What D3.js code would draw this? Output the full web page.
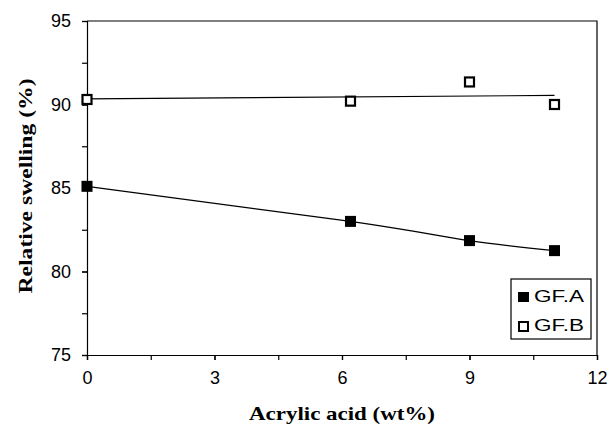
<!DOCTYPE html>
<html>
<head>
<meta charset="utf-8">
<script src="https://cdn.jsdelivr.net/npm/d3@7"></script>
<style>
  body { margin: 0; background: #fff; }
  svg { display: block; }
</style>
</head>
<body>
<svg id="chart" width="610" height="430"></svg>
<script>
// data
const acrylic = [0, 6.2, 9, 11];
const gfA = [85.1, 83.0, 81.85, 81.25];
const gfB = [90.3, 90.2, 91.35, 90.0];
const seriesNames = ["GF.A", "GF.B"];
const xTicks = [0, 3, 6, 9, 12];
const yTicks = [75, 80, 85, 90, 95];

const margins = {top: 21, left: 87, right: 13, bottom: 75};
const width = 610, height = 430;

const xScale = d3.scaleLinear().domain([0, 12]).range([margins.left, width - margins.right]);
const yScale = d3.scaleLinear().domain([75, 95]).range([height - margins.bottom, margins.top]);

const svg = d3.select("#chart");
const titleFont = "'Liberation Serif', 'Times New Roman', serif";

// frame top + right
svg.append("path")
   .attr("d", `M${xScale(0)},${yScale(95)}H${xScale(12)}V${yScale(75)}`)
   .attr("fill", "none").attr("stroke", "#000").attr("stroke-width", 1.2);

// minor ticks
svg.append("g")
   .attr("transform", `translate(0,${yScale(75)})`)
   .call(d3.axisBottom(xScale).tickValues(d3.range(0, 12.01, 1.5)).tickSize(5).tickFormat(""));
svg.append("g")
   .attr("transform", `translate(${xScale(0)},0)`)
   .call(d3.axisLeft(yScale).tickValues(d3.range(75, 95.01, 2.5)).tickSize(5).tickFormat(""));

// labels
svg.append("g")
   .attr("transform", `translate(0,${yScale(75)})`)
   .call(d3.axisBottom(xScale).tickValues(xTicks).tickSize(5).tickPadding(11))
   .call(g => g.select(".domain").remove());
svg.append("g")
   .attr("transform", `translate(${xScale(0)},0)`)
   .call(d3.axisLeft(yScale).tickValues(yTicks).tickSize(5).tickPadding(11))
   .call(g => g.select(".domain").remove());

svg.selectAll(".domain, .tick line").attr("stroke", "#000").attr("stroke-width", 1.2);
svg.selectAll(".tick text")
   .attr("font-family", "'Liberation Sans', Arial, sans-serif")
   .attr("font-size", 18).attr("fill", "#000");

// axis titles
svg.append("text")
   .attr("x", 342).attr("y", 420)
   .attr("text-anchor", "middle")
   .attr("font-family", titleFont).attr("font-weight", "bold").attr("font-size", 19)
   .attr("textLength", 186).attr("lengthAdjust", "spacingAndGlyphs")
   .text("Acrylic acid (wt%)");
svg.append("text")
   .attr("transform", `translate(32,186) rotate(-90)`)
   .attr("text-anchor", "middle")
   .attr("font-family", titleFont).attr("font-weight", "bold").attr("font-size", 19)
   .attr("textLength", 215).attr("lengthAdjust", "spacingAndGlyphs")
   .text("Relative swelling (%)");

// trend lines
const ptsA = acrylic.map((x, i) => [x, gfA[i]]);
const ptsB = acrylic.map((x, i) => [x, gfB[i]]);

svg.append("path")
   .attr("d", d3.line().x(d => xScale(d[0])).y(d => yScale(d[1])).curve(d3.curveNatural)(ptsA))
   .attr("fill", "none").attr("stroke", "#000").attr("stroke-width", 1.2);

// least squares straight line for GF.B
const mx = d3.mean(acrylic), my = d3.mean(gfB);
const slope = d3.sum(ptsB, d => (d[0] - mx) * (d[1] - my)) / d3.sum(acrylic, x => (x - mx) * (x - mx));
const icpt = my - slope * mx;
const xEnds = d3.extent(acrylic);
svg.append("path")
   .attr("d", d3.line().x(d => xScale(d)).y(d => yScale(icpt + slope * d))(xEnds))
   .attr("fill", "none").attr("stroke", "#000").attr("stroke-width", 1.2);

// markers
svg.append("g").selectAll("rect").data(ptsA).enter().append("rect")
   .attr("x", d => xScale(d[0]) - 5.5).attr("y", d => yScale(d[1]) - 5.5)
   .attr("width", 11).attr("height", 11).attr("fill", "#000");
svg.append("g").selectAll("rect").data(ptsB).enter().append("rect")
   .attr("x", d => xScale(d[0]) - 4.5).attr("y", d => yScale(d[1]) - 4.5)
   .attr("width", 9).attr("height", 9).attr("fill", "#fff").attr("stroke", "#000").attr("stroke-width", 2.2);

// legend
const legend = svg.append("g").attr("transform", "translate(511,279)");
legend.append("rect").attr("width", 80).attr("height", 60)
   .attr("fill", "#fff").attr("stroke", "#000").attr("stroke-width", 1.2);
legend.append("rect").attr("x", 7).attr("y", 13).attr("width", 11).attr("height", 10).attr("fill", "#000");
legend.append("rect").attr("x", 8).attr("y", 43).attr("width", 9).attr("height", 9)
   .attr("fill", "#fff").attr("stroke", "#000").attr("stroke-width", 2);
legend.selectAll("text.lab").data(seriesNames).enter().append("text")
   .attr("class", "lab")
   .attr("x", 23).attr("y", (d, i) => 23 + i * 29)
   .attr("font-family", "'Liberation Sans', Arial, sans-serif").attr("font-size", 17)
   .attr("textLength", 50).attr("lengthAdjust", "spacingAndGlyphs")
   .text(d => d);
</script>
</body>
</html>
